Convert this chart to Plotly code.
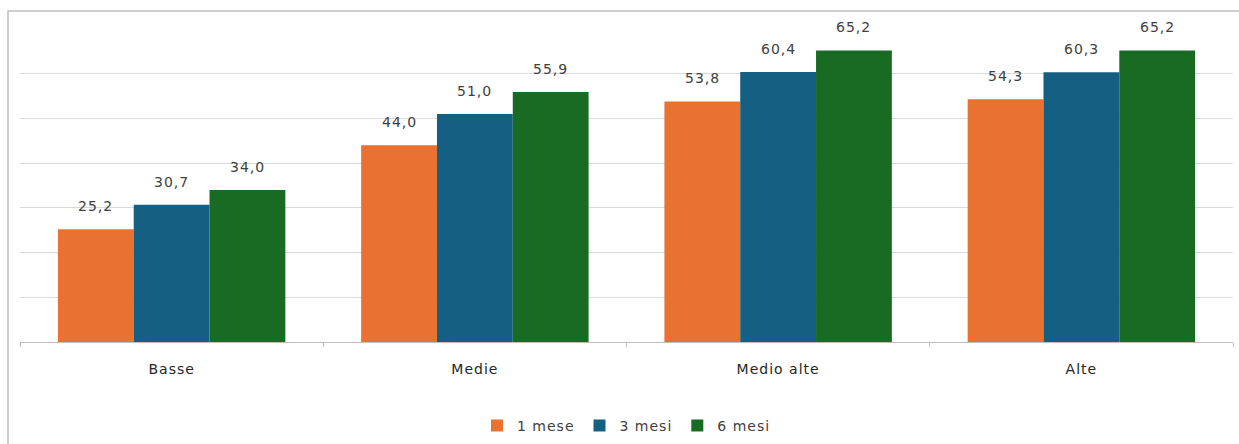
import plotly.graph_objects as go

categories = ["Basse", "Medie", "Medio alte", "Alte"]
series_names = ["1 mese", "3 mesi", "6 mesi"]
values_1_mese = [25.2, 44.0, 53.8, 54.3]
values_3_mesi = [30.7, 51.0, 60.4, 60.3]
values_6_mesi = [34.0, 55.9, 65.2, 65.2]
colors = ["#E97132", "#156082", "#196B24"]

series = [values_1_mese, values_3_mesi, values_6_mesi]

FONT = "DejaVu Sans, Verdana, sans-serif"


def spaced(s, px=1):
    return f'<span style="letter-spacing:{px}px">{s}</span>'


def fmt(v):
    return f"{v:.1f}".replace(".", ",")


fig = go.Figure()
for name, vals, col in zip(series_names, series, colors):
    fig.add_trace(go.Bar(
        name=spaced(name), x=categories, y=vals,
        marker=dict(color=col, line=dict(width=0)),
        hoverinfo="skip",
    ))

bar_w = 0.25
for k, vals in enumerate(series):
    off = (k - 1) * bar_w
    for i, v in enumerate(vals):
        fig.add_annotation(
            x=i + off, y=v, xref="x", yref="y", text=spaced(fmt(v)), showarrow=False,
            yanchor="middle", yshift=23,
            font=dict(family=FONT, size=14, color="#404040"),
        )

# outer frame
fig.add_shape(type="rect", xref="paper", yref="paper",
              x0=-12/1213, x1=1.02, y0=-0.5, y1=(342-11)/313,
              line=dict(color="#BFBFBF", width=1.5), layer="below")

fig.update_layout(
    width=1239, height=444,
    margin=dict(l=20, r=6, t=29, b=102, autoexpand=False),
    paper_bgcolor="white", plot_bgcolor="white",
    barmode="group", bargap=0.25, bargroupgap=0,
    showlegend=True,
    legend=dict(orientation="h", x=0.5, xanchor="center", y=-0.268, yanchor="middle",
                font=dict(family=FONT, size=14, color="#404040"),
                traceorder="normal", itemwidth=30),
    xaxis=dict(type="category", showline=True, linecolor="#BFBFBF", linewidth=1,
               ticks="outside", tickson="boundaries", ticklen=4, tickcolor="#BFBFBF",
               tickvals=categories, ticktext=[spaced(c) for c in categories],
               ticklabelstandoff=14, automargin=False,
               tickfont=dict(family=FONT, size=14, color="#262626"),
               showgrid=False),
    yaxis=dict(range=[0, 70], dtick=10, showticklabels=False, showgrid=True, automargin=False,
               gridcolor="#D9D9D9", gridwidth=1.2, zeroline=False, showline=False, ticks=""),
)

fig.write_html("out.html")
